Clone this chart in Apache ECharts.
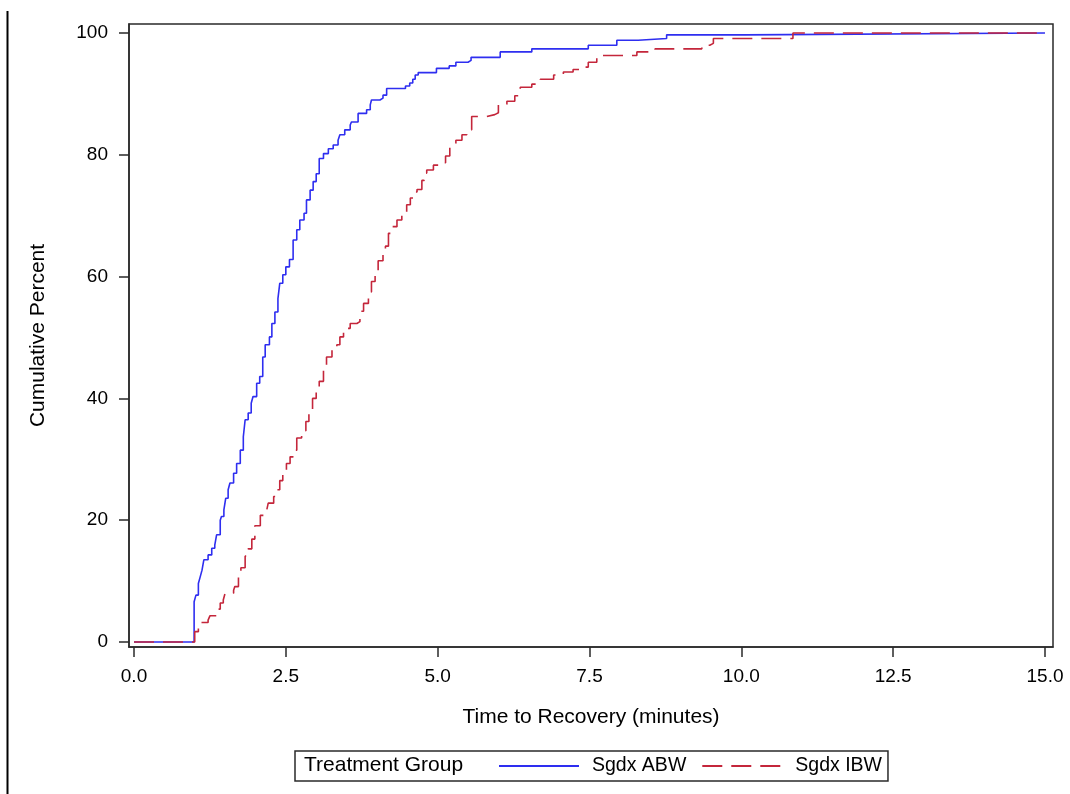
<!DOCTYPE html>
<html>
<head>
<meta charset="utf-8">
<script src="https://cdn.jsdelivr.net/npm/echarts@6/dist/echarts.min.js"></script>
<style>
html,body{margin:0;padding:0;background:#fff;}
#chart{width:1070px;height:794px;}
</style>
</head>
<body>
<div id="chart"></div>
<script>
// ---- Data ----
const xTicks = [0, 2.5, 5, 7.5, 10, 12.5, 15];
const yTicks = [0, 20, 40, 60, 80, 100];

const seriesNames = ['Sgdx ABW', 'Sgdx IBW'];
const legendTitle = 'Treatment Group';
const xTitle = 'Time to Recovery (minutes)';
const yTitle = 'Cumulative Percent';

const abwTime = [0, 0.99, 1.02, 1.06, 1.09, 1.12, 1.15, 1.22, 1.28, 1.33, 1.36, 1.42, 1.44, 1.48, 1.51, 1.55, 1.58, 1.64, 1.69, 1.75, 1.80, 1.83, 1.88, 1.93, 1.96, 2.02, 2.07, 2.12, 2.16, 2.23, 2.27, 2.32, 2.37, 2.40, 2.45, 2.50, 2.56, 2.62, 2.68, 2.73, 2.80, 2.84, 2.90, 2.95, 3.00, 3.05, 3.12, 3.20, 3.28, 3.36, 3.39, 3.47, 3.56, 3.58, 3.69, 3.83, 3.89, 3.91, 4.05, 4.10, 4.16, 4.47, 4.54, 4.59, 4.63, 4.68, 4.98, 5.19, 5.30, 5.50, 5.55, 6.03, 6.55, 7.48, 7.95, 8.30, 8.77, 10.06, 15.0];
const abwPct  = [0, 6.6, 7.7, 9.6, 10.7, 11.8, 13.5, 14.3, 15.4, 15.9, 17.6, 20.0, 20.6, 21.7, 23.6, 25.0, 26.1, 27.7, 29.3, 31.5, 33.7, 36.5, 37.6, 39.2, 40.3, 42.5, 43.6, 46.8, 48.8, 50.1, 52.3, 54.2, 56.4, 58.9, 60.3, 61.6, 62.8, 66.0, 67.7, 69.3, 70.4, 72.6, 74.2, 75.6, 76.9, 79.4, 80.2, 81.0, 81.6, 82.4, 83.3, 84.1, 84.9, 85.4, 86.8, 87.4, 88.2, 89.0, 89.3, 89.8, 90.9, 91.3, 91.8, 92.4, 93.1, 93.5, 94.2, 94.6, 95.2, 95.5, 96.0, 96.9, 97.4, 98.0, 98.8, 99.1, 99.7, 100, 100];

const ibwTime = [0, 1.00, 1.06, 1.10, 1.22, 1.25, 1.36, 1.42, 1.47, 1.50, 1.64, 1.66, 1.72, 1.76, 1.83, 1.88, 1.94, 1.99, 2.08, 2.18, 2.21, 2.30, 2.35, 2.40, 2.45, 2.51, 2.57, 2.62, 2.68, 2.76, 2.83, 2.88, 2.94, 3.00, 3.05, 3.12, 3.17, 3.26, 3.34, 3.39, 3.45, 3.56, 3.67, 3.72, 3.78, 3.86, 3.91, 3.97, 4.02, 4.10, 4.14, 4.19, 4.24, 4.33, 4.41, 4.49, 4.55, 4.61, 4.66, 4.74, 4.78, 4.82, 4.93, 5.07, 5.13, 5.20, 5.23, 5.30, 5.40, 5.48, 5.56, 5.81, 5.94, 6.00, 6.14, 6.27, 6.36, 6.55, 6.69, 6.91, 7.07, 7.23, 7.37, 7.48, 7.62, 8.28, 8.58, 9.35, 9.48, 9.54, 10.85, 15.0];
const ibwPct  = [0, 1.7, 2.5, 3.2, 3.6, 4.3, 5.4, 6.4, 6.9, 8.0, 8.5, 9.1, 10.7, 12.2, 14.1, 15.3, 16.9, 19.1, 20.8, 21.4, 22.8, 23.9, 25.0, 26.5, 28.2, 29.3, 30.4, 31.5, 33.5, 34.7, 36.2, 38.1, 40.0, 41.0, 42.8, 44.9, 46.8, 48.2, 48.8, 50.1, 51.5, 52.3, 52.6, 54.3, 55.6, 57.5, 59.2, 60.8, 62.6, 64.1, 65.0, 67.1, 68.2, 69.3, 70.4, 71.8, 72.9, 73.9, 74.3, 75.8, 77.0, 77.5, 78.3, 78.7, 79.8, 81.2, 81.9, 82.4, 83.3, 84.1, 86.3, 86.6, 86.9, 88.3, 88.8, 89.7, 91.1, 91.6, 92.4, 93.1, 93.6, 94.0, 94.4, 95.2, 96.3, 96.9, 97.4, 98.0, 98.3, 99.1, 100, 100];

// ---- Chart ----
const FONT = "'Liberation Sans', Arial, sans-serif";
const zip = (xs, ys) => xs.map((x, i) => [x, ys[i]]);

const chart = echarts.init(document.getElementById('chart'), null, {renderer: 'canvas'});
chart.setOption({
  animation: false,
  backgroundColor: '#ffffff',
  textStyle: {fontFamily: FONT},
  grid: {
    left: 129, top: 24, right: 17, bottom: 147,
    show: true, borderColor: '#2a2a2a', borderWidth: 1.5, backgroundColor: 'transparent'
  },
  xAxis: {
    type: 'value',
    min: -0.0823, max: 15.132,
    name: xTitle, nameLocation: 'middle', nameGap: 60,
    nameTextStyle: {fontSize: 21, color: '#000', fontFamily: FONT},
    axisLine: {show: true, onZero: false, lineStyle: {color: '#2a2a2a', width: 1.5}},
    axisTick: {show: true, length: 10, customValues: xTicks, lineStyle: {color: '#2a2a2a', width: 1.5}},
    axisLabel: {customValues: xTicks, margin: 20, fontSize: 19, color: '#000', fontFamily: FONT,
      formatter: v => Number(v).toFixed(1)},
    splitLine: {show: false}
  },
  yAxis: {
    type: 'value',
    min: -0.821, max: 101.48,
    name: yTitle, nameLocation: 'middle', nameGap: 80,
    nameTextStyle: {fontSize: 21, color: '#000', fontFamily: FONT},
    axisLine: {show: true, onZero: false, lineStyle: {color: '#2a2a2a', width: 1.5}},
    axisTick: {show: true, length: 10, customValues: yTicks, lineStyle: {color: '#2a2a2a', width: 1.5}},
    axisLabel: {customValues: yTicks, margin: 21, fontSize: 19, color: '#000', fontFamily: FONT},
    splitLine: {show: false}
  },
  legend: {
    left: 295, top: 751,
    orient: 'horizontal',
    padding: [5, 6, 5, 203],
    itemWidth: 80, itemHeight: 12, itemGap: 15,
    borderColor: '#2a2a2a', borderWidth: 1.5,
    itemStyle: {opacity: 0},
    textStyle: {fontSize: 19.5, color: '#000', fontFamily: FONT, padding: [0, 0, 0, 8]},
    data: seriesNames
  },
  graphic: [
    {type: 'text', left: 304, top: 755,
      style: {text: legendTitle, fontSize: 21, fill: '#000', fontFamily: FONT}},
    {type: 'line', shape: {x1: 7.5, y1: 11, x2: 7.5, y2: 794},
      style: {stroke: '#000', lineWidth: 2}}
  ],
  series: [
    {
      name: seriesNames[0], type: 'line', step: 'end', symbol: 'none', showSymbol: false,
      data: zip(abwTime, abwPct),
      lineStyle: {color: '#2e2ef0', width: 1.6, type: 'solid'},
      itemStyle: {color: '#2e2ef0'},
      z: 2
    },
    {
      name: seriesNames[1], type: 'line', step: 'end', symbol: 'none', showSymbol: false,
      data: zip(ibwTime, ibwPct),
      lineStyle: {color: '#c4263b', width: 1.6, type: [20, 9]},
      itemStyle: {color: '#c4263b'},
      z: 3
    }
  ]
});
</script>
</body>
</html>
